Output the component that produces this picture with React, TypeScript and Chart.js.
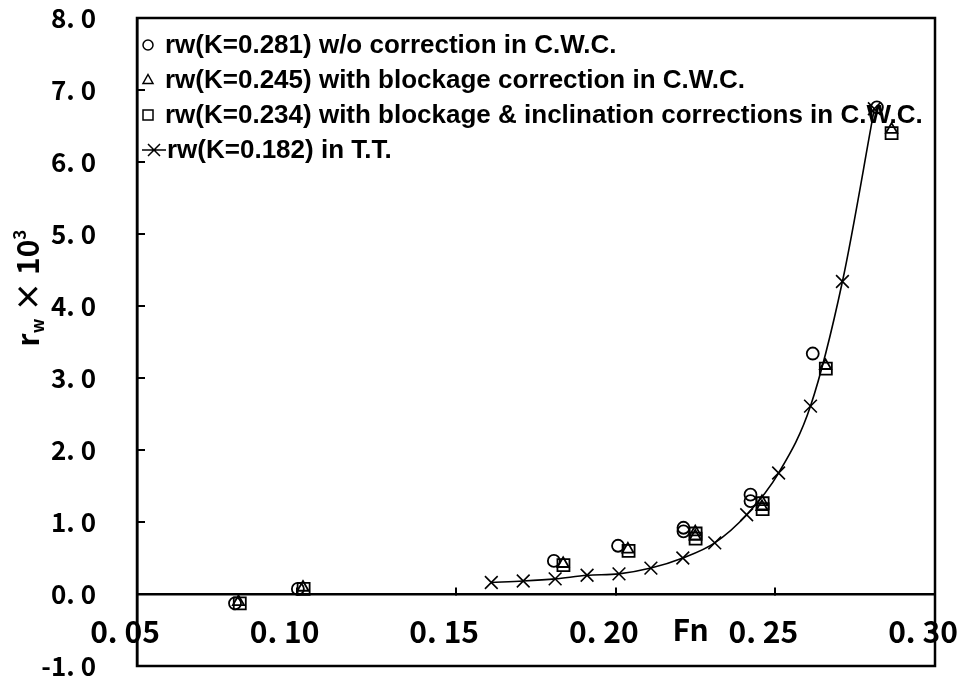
import React, { useEffect, useRef } from "react";
import { Chart, registerables } from "chart.js";

Chart.register(...registerables);

// ---- Data ----
const xTickValues = [0.05, 0.1, 0.15, 0.2, 0.25, 0.3];
const xTickLabels = ["0. 05", "0. 10", "0. 15", "0. 20", "0. 25", "0. 30"];
const yTickValues = [-1, 0, 1, 2, 3, 4, 5, 6, 7, 8];
const yTickLabels = ["-1. 0", "0. 0", "1. 0", "2. 0", "3. 0", "4. 0", "5. 0", "6. 0", "7. 0", "8. 0"];

const seriesLabels = [
  "rw(K=0.281) w/o correction in C.W.C.",
  "rw(K=0.245) with blockage correction in C.W.C.",
  "rw(K=0.234) with blockage & inclination corrections in C.W.C.",
  "rw(K=0.182) in T.T.",
];

const circleFn = [0.0807, 0.1004, 0.1806, 0.2007, 0.2212, 0.2212, 0.2422, 0.2422, 0.2617, 0.2818];
const circleRw = [-0.13, 0.07, 0.46, 0.67, 0.92, 0.87, 1.38, 1.29, 3.34, 6.76];

const triangleFn = [0.0818, 0.102, 0.1835, 0.2038, 0.2249, 0.2249, 0.2458, 0.2458, 0.2657, 0.2864];
const triangleRw = [-0.11, 0.09, 0.42, 0.62, 0.86, 0.80, 1.28, 1.21, 3.17, 6.45];

const squareFn = [0.0822, 0.1022, 0.1836, 0.204, 0.225, 0.225, 0.246, 0.246, 0.2658, 0.2864];
const squareRw = [-0.13, 0.07, 0.40, 0.60, 0.84, 0.77, 1.26, 1.18, 3.13, 6.40];

const ttFn = [0.161, 0.171, 0.181, 0.191, 0.201, 0.211, 0.221, 0.231, 0.241, 0.251, 0.261, 0.271, 0.281];
const ttRw = [0.16, 0.18, 0.21, 0.26, 0.28, 0.36, 0.5, 0.71, 1.1, 1.68, 2.61, 4.34, 6.74];

const xAxisTitle = "Fn";

const toPts = (xs: number[], ys: number[]) => xs.map((x, i) => ({ x, y: ys[i] }));

const TICK_FONT = '"Noto Sans CJK JP", "Noto Sans", sans-serif';
const LEGEND_FONT = 'bold 26px "Liberation Sans", Arial, sans-serif';

const framePlugin = {
  id: "frame",
  afterDatasetsDraw(chart: any) {
    const { ctx, chartArea: a } = chart;
    ctx.save();
    ctx.strokeStyle = "#000";
    ctx.lineWidth = 2.5;
    ctx.strokeRect(a.left, a.top, a.right - a.left, a.bottom - a.top);
    ctx.restore();
  },
};

const legendPlugin = {
  id: "customLegend",
  afterDraw(chart: any) {
    const { ctx, chartArea: a } = chart;
    ctx.save();
    ctx.strokeStyle = "#000";
    ctx.fillStyle = "#000";
    ctx.lineWidth = 1.5;
    const rowH = 35;
    const symX = a.left + 11;
    const textX = a.left + 28;
    chart.data.datasets.forEach((ds: any, i: number) => {
      const y = a.top + 27 + i * rowH;
      ctx.beginPath();
      const st = ds.pointStyle;
      if (st === "circle") {
        ctx.arc(symX, y, 5, 0, Math.PI * 2);
      } else if (st === "triangle") {
        ctx.moveTo(symX, y - 5.5);
        ctx.lineTo(symX + 5, y + 3.5);
        ctx.lineTo(symX - 5, y + 3.5);
        ctx.closePath();
      } else if (st === "rect") {
        ctx.rect(symX - 5, y - 5, 10, 10);
      } else {
        ctx.moveTo(a.left + 5, y);
        ctx.lineTo(a.left + 29, y);
        ctx.moveTo(a.left + 11, y - 6);
        ctx.lineTo(a.left + 23, y + 6);
        ctx.moveTo(a.left + 11, y + 6);
        ctx.lineTo(a.left + 23, y - 6);
      }
      ctx.stroke();
      ctx.font = LEGEND_FONT;
      ctx.textBaseline = "middle";
      ctx.textAlign = "left";
      ctx.fillText(ds.label, st === "crossRot" ? textX + 2 : textX, y + 1);
    });
    ctx.restore();
  },
};

const titlePlugin = {
  id: "axisTitles",
  afterDraw(chart: any) {
    const { ctx } = chart;
    const xs = chart.scales.x;
    const ys = chart.scales.y;
    ctx.save();
    ctx.fillStyle = "#000";
    // x title "Fn"
    ctx.font = `bold 30px ${TICK_FONT}`;
    ctx.textAlign = "center";
    ctx.textBaseline = "middle";
    const p20 = xs.getPixelForValue(0.2);
    const p25 = xs.getPixelForValue(0.25);
    const yZero = ys.getPixelForValue(0);
    ctx.fillText(xAxisTitle, (p20 + p25) / 2 - 5, yZero + 36);

    // y title: r_w × 10^3 rotated
    const big = `bold 30px ${TICK_FONT}`;
    const small = `bold 17px ${TICK_FONT}`;
    const parts = [
      { t: "r", f: big, dy: 0 },
      { t: "w", f: small, dy: 5 },
      { t: " × ", f: big, dy: 0 },
      { t: "10", f: big, dy: 0 },
      { t: "3", f: small, dy: -13 },
    ];
    let total = 0;
    parts.forEach((p) => {
      ctx.font = p.f;
      total += ctx.measureText(p.t).width;
    });
    const cy = ys.getPixelForValue(4.25);
    ctx.translate(39, 0);
    ctx.rotate(-Math.PI / 2);
    ctx.textAlign = "left";
    ctx.textBaseline = "alphabetic";
    let lx = -(cy + total / 2);
    parts.forEach((p) => {
      ctx.font = p.f;
      ctx.fillText(p.t, lx, p.dy);
      lx += ctx.measureText(p.t).width;
    });
    ctx.restore();
  },
};

export default function App() {
  const ref = useRef<HTMLCanvasElement | null>(null);
  useEffect(() => {
    if (!ref.current) return;
    const chart = new Chart(ref.current, {
      type: "scatter",
      data: {
        datasets: [
          {
            label: seriesLabels[0],
            data: toPts(circleFn, circleRw),
            pointStyle: "circle",
            pointRadius: 6,
            borderColor: "#000",
            backgroundColor: "rgba(0,0,0,0)",
            borderWidth: 1.8,
          },
          {
            label: seriesLabels[1],
            data: toPts(triangleFn, triangleRw),
            pointStyle: "triangle",
            pointRadius: 6.5,
            borderColor: "#000",
            backgroundColor: "rgba(0,0,0,0)",
            borderWidth: 1.8,
          },
          {
            label: seriesLabels[2],
            data: toPts(squareFn, squareRw),
            pointStyle: "rect",
            pointRadius: 8.5,
            borderColor: "#000",
            backgroundColor: "rgba(0,0,0,0)",
            borderWidth: 1.8,
          },
          {
            label: seriesLabels[3],
            data: toPts(ttFn, ttRw),
            pointStyle: "crossRot",
            pointRadius: 9,
            borderColor: "#000",
            backgroundColor: "rgba(0,0,0,0)",
            borderWidth: 1.6,
            showLine: true,
            cubicInterpolationMode: "monotone",
          } as any,
        ],
      },
      options: {
        animation: false,
        responsive: false,
        maintainAspectRatio: false,
        layout: { padding: { top: 18, right: 30, bottom: 16, left: 0 } },
        plugins: { legend: { display: false }, tooltip: { enabled: false } },
        scales: {
          x: {
            type: "linear",
            min: 0.05,
            max: 0.3,
            position: { y: 0 } as any,
            afterBuildTicks: (s: any) => {
              s.ticks = xTickValues.map((v) => ({ value: v }));
            },
            afterFit: (s: any) => {
              s.height = 0;
              s.paddingLeft = 0;
              s.paddingRight = 0;
              s.paddingTop = 0;
              s.paddingBottom = 0;
            },
            ticks: {
              autoSkip: false,
              maxRotation: 0,
              padding: 28,
              labelOffset: -12,
              color: "#000",
              font: { family: TICK_FONT, size: 30, weight: "bold" },
              callback: (_v: any, i: number) => xTickLabels[i],
            },
            grid: { display: true, drawOnChartArea: false, drawTicks: true, tickLength: -8, color: "#000", lineWidth: 2 },
            border: { display: true, color: "#000", width: 2.5 },
          },
          y: {
            type: "linear",
            min: -1,
            max: 8,
            position: "left",
            afterBuildTicks: (s: any) => {
              s.ticks = yTickValues.map((v) => ({ value: v }));
            },
            afterFit: (s: any) => {
              s.width = 137;
              s.paddingTop = 0;
              s.paddingBottom = 0;
            },
            ticks: {
              autoSkip: false,
              padding: 49,
              color: "#000",
              font: { family: TICK_FONT, size: 26, weight: "bold" },
              callback: (_v: any, i: number) => yTickLabels[i],
            },
            grid: { display: true, drawOnChartArea: false, drawTicks: true, tickLength: -8, color: "#000", lineWidth: 2 },
            border: { display: true, color: "#000", width: 2.5 },
          },
        },
      },
      plugins: [framePlugin, legendPlugin, titlePlugin],
    });
    return () => chart.destroy();
  }, []);
  return (
    <div style={{ position: "absolute", left: 0, top: 0, width: 965, height: 682, background: "#fff" }}>
      <canvas ref={ref} width={965} height={682} style={{ width: 965, height: 682 }} />
    </div>
  );
}
